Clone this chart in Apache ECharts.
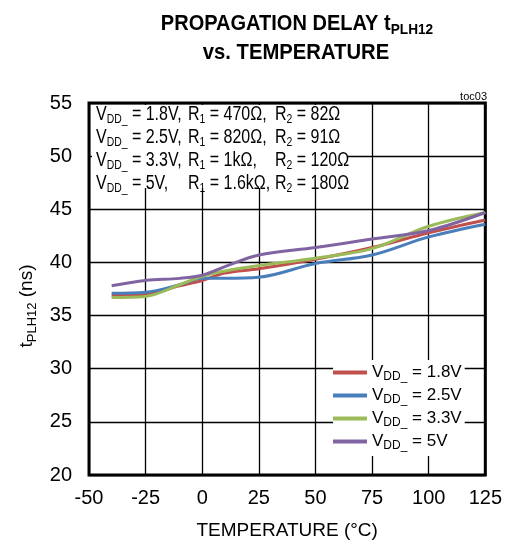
<!DOCTYPE html>
<html><head><meta charset="utf-8">
<script src="https://cdn.jsdelivr.net/npm/echarts@6/dist/echarts.min.js"></script>
<style>html,body{margin:0;padding:0;background:#fff}#c{width:505px;height:545px}</style>
</head><body><div id="c"></div>
<script>
const tempC = [-40, -25, -10, 0, 10, 25, 50, 75, 100, 125];
const seriesNames = ['VDD_ = 1.8V', 'VDD_ = 2.5V', 'VDD_ = 3.3V', 'VDD_ = 5V'];
const vdd18 = [36.9, 37.0, 37.8, 38.3, 39.0, 39.4, 40.3, 41.4, 42.8, 44.0];
const vdd25 = [37.1, 37.2, 37.9, 38.5, 38.5, 38.6, 39.9, 40.7, 42.4, 43.6];
const vdd33 = [36.7, 36.8, 37.9, 38.7, 39.2, 39.7, 40.4, 41.3, 43.4, 44.7];
const vdd50 = [37.8, 38.3, 38.5, 38.8, 39.6, 40.7, 41.4, 42.2, 43.0, 44.7];
const xTicks = [-50, -25, 0, 25, 50, 75, 100, 125];
const yTicks = [20, 25, 30, 35, 40, 45, 50, 55];
const colors = ['#c0504d', '#4a7ebb', '#9bbb59', '#8064a2'];
const noteRows = [
  ['1.8V,', '470Ω,', '82Ω'],
  ['2.5V,', '820Ω,', '91Ω'],
  ['3.3V,', '1kΩ,', '120Ω'],
  ['5V,', '1.6kΩ,', '180Ω']
];
const FONT = "'Liberation Sans Narrow', 'Liberation Sans', Arial, sans-serif";

const chart = echarts.init(document.getElementById('c'), null, {renderer: 'canvas'});
const allData = [vdd18, vdd25, vdd33, vdd50];

const subRich = (size, sub) => ({
  m: {fontSize: size, fontFamily: FONT, lineHeight: size + 4, fill: '#000', color: '#000'},
  s: {fontSize: sub, fontFamily: FONT, lineHeight: sub, verticalAlign: 'bottom', fill: '#000', color: '#000'}
});

const noteGraphics = [];
const colX = [96, 188, 275];
noteRows.forEach((r, i) => {
  const y = 114 + i * 23;
  const txt = ['{m|V}{s|DD_}{m| = ' + r[0] + '}', '{m|R}{s|1}{m| = ' + r[1] + '}', '{m|R}{s|2}{m| = ' + r[2] + '}'];
  txt.forEach((t, k) => {
    noteGraphics.push({type: 'text', x: colX[k], y: y, scaleX: 0.8, z: 101, style: {
      text: t, x: 0, y: 0, verticalAlign: 'middle', align: 'left', rich: subRich(20, 13)
    }});
  });
});

const option = {
  animation: false,
  backgroundColor: '#fff',
  color: colors,
  grid: {left: 89, right: 16, top: 103, bottom: 68, show: true, borderColor: '#000', borderWidth: 3, backgroundColor: 'transparent'},
  xAxis: {
    type: 'value', min: xTicks[0], max: xTicks[xTicks.length - 1], interval: 25,
    name: 'TEMPERATURE (°C)', nameLocation: 'middle', nameGap: 46,
    nameTextStyle: {fontSize: 19, fontFamily: FONT, color: '#000'},
    axisLine: {show: false}, axisTick: {show: false},
    axisLabel: {fontSize: 20, fontFamily: FONT, color: '#000', margin: 13},
    splitLine: {show: true, lineStyle: {color: '#000', width: 1.3}}
  },
  yAxis: {
    type: 'value', min: yTicks[0], max: yTicks[yTicks.length - 1], interval: 5,
    axisLine: {show: false}, axisTick: {show: false},
    axisLabel: {fontSize: 20, fontFamily: FONT, color: '#000', margin: 17},
    splitLine: {show: true, lineStyle: {color: '#000', width: 1.3}}
  },
  legend: {
    orient: 'vertical', left: 333, top: 360, backgroundColor: '#fff', padding: [4, 3, 4, 0],
    itemWidth: 34, itemHeight: 4, itemGap: 4, icon: 'rect', z: 100,
    data: seriesNames,
    formatter: n => '{m|V}{s|DD_}{m|' + n.slice(4) + '}',
    textStyle: {rich: subRich(17, 12)}
  },
  graphic: [
    {type: 'rect', left: 92, top: 105, z: 100, shape: {width: 256, height: 83}, style: {fill: '#fff'}},
    ...noteGraphics,
    {type: 'text', right: 18, top: 91, style: {text: 'toc03', font: '11px ' + FONT, fill: '#000'}},
    {type: 'text', x: 297, y: 24, scaleX: 0.91, style: {
      text: '{b|PROPAGATION DELAY t}{sb|PLH12}', x: 0, y: 0, align: 'center', verticalAlign: 'middle',
      rich: {b: {fontSize: 22, fontWeight: 'bold', fontFamily: FONT, lineHeight: 26, fill: '#000'}, sb: {fontSize: 15, fontWeight: 'bold', fontFamily: FONT, lineHeight: 15, verticalAlign: 'bottom', fill: '#000'}}
    }},
    {type: 'text', x: 296, y: 53, scaleX: 0.92, style: {
      text: 'vs. TEMPERATURE', x: 0, y: 0, align: 'center', verticalAlign: 'middle',
      font: 'bold 22px ' + FONT, fill: '#000'
    }},
    {type: 'text', x: 27, y: 306, rotation: Math.PI / 2, style: {
      text: '{m|t}{s|PLH12}{m| (ns)}', x: 0, y: 0, align: 'center', verticalAlign: 'middle', rich: subRich(19, 13)
    }}
  ],
  series: seriesNames.map((n, i) => ({
    name: n, type: 'line', smooth: 0.35, symbol: 'none', z: 10 + i,
    lineStyle: {width: 3, color: colors[i]},
    data: tempC.map((t, j) => [t, allData[i][j]])
  }))
};
chart.setOption(option);
</script></body></html>
